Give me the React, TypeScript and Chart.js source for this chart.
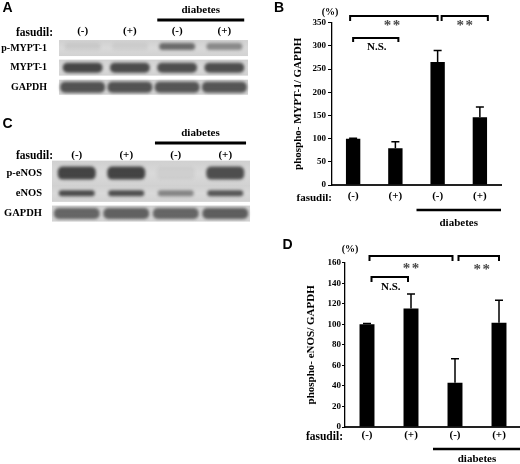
import React, { useEffect, useRef } from "react";
import { Chart, registerables } from "chart.js";

Chart.register(...registerables);

const SERIF = "'Liberation Serif', 'Times New Roman', serif";
const SANS = "'Liberation Sans', Arial, sans-serif";

// ---------------- data ----------------
const fasudilLabels = ["(-)", "(+)", "(-)", "(+)"];
const diabetesLabel = "diabetes";

const rowsA = ["p-MYPT-1", "MYPT-1", "GAPDH"];
const rowsC = ["p-eNOS", "eNOS", "GAPDH"];

// band intensities per lane (0 = none, 1 = black)
const bandPMYPT1 = [0.07, 0.06, 0.58, 0.42];
const bandMYPT1 = [0.78, 0.76, 0.74, 0.74];
const bandGAPDHA = [0.72, 0.72, 0.7, 0.7];
const bandPeNOS = [0.8, 0.8, 0.05, 0.74];
const bandENOS = [0.76, 0.74, 0.45, 0.7];
const bandGAPDHC = [0.62, 0.64, 0.62, 0.66];

const myptTitle = "phospho- MYPT-1/ GAPDH";
const myptValues = [100, 79, 265, 146];
const myptErrors = [0.8, 14, 25, 22];
const myptMax = 350;
const myptStep = 50;

const enosTitle = "phospho- eNOS/ GAPDH";
const enosValues = [100, 115.5, 43, 101.5];
const enosErrors = [0.8, 14, 23.5, 22];
const enosMax = 160;
const enosStep = 20;

// comparisons: [from bar, to bar, label]
const myptBrackets: [number, number, string][] = [
  [0, 2, "**"],
  [2, 3, "**"],
  [0, 1, "N.S."],
];
const enosBrackets: [number, number, string][] = [
  [0, 2, "**"],
  [2, 3, "**"],
  [0, 1, "N.S."],
];

// ---------------- styles ----------------
const myptBracketStyle = [
  { level: 364.5, dx: [-3, 0], leg: 5, tx: -2, ty: 7.5 },
  { level: 364.5, dx: [4, 8], leg: 5, tx: 0, ty: 7.5 },
  { level: 317, dx: [0, 3], leg: 4, tx: 1, ty: 9 },
];
const enosBracketStyle = [
  { level: 166.5, dx: [2.5, -2.5], leg: 5, tx: 0, ty: 10 },
  { level: 166.5, dx: [3.5, 0], leg: 5, tx: 3, ty: 11 },
  { level: 146, dx: [4.5, -3], leg: 5, tx: 1, ty: 10 },
];

Chart.defaults.font.family = SERIF;
Chart.defaults.font.weight = "bold" as any;
Chart.defaults.color = "#000";

function drawDiabetes(ctx: any, xs: any, factor: number, lineY: number, textY: number, lw: number) {
  const w = xs.getPixelForValue(1) - xs.getPixelForValue(0);
  const x0 = xs.getPixelForValue(2) - w * factor;
  const x1 = xs.getPixelForValue(3) + w * factor;
  ctx.save();
  ctx.strokeStyle = "#000";
  ctx.lineWidth = lw;
  ctx.beginPath();
  ctx.moveTo(x0, lineY);
  ctx.lineTo(x1, lineY);
  ctx.stroke();
  ctx.fillStyle = "#000";
  ctx.font = `bold 11px ${SERIF}`;
  ctx.textAlign = "center";
  ctx.textBaseline = "middle";
  ctx.fillText(diabetesLabel, (x0 + x1) / 2, textY);
  ctx.restore();
}

type RowStyle = { stripH: number; bandH: number; bandW: number; dy: number };

function BlotPanel(props: {
  left: number; top: number; width: number; height: number;
  rows: string[]; bands: number[][]; rowStyles: RowStyle[];
  pad: { top: number; left: number; right: number; bottom: number };
  yWidth: number; yPad: number; rowFont: number; xHeight: number; xPad: number;
  lineY: number; textY: number;
}) {
  const ref = useRef<HTMLCanvasElement>(null);
  useEffect(() => {
    const p = props;
    const blotPlugin = {
      id: "blot",
      afterDraw(chart: any) {
        const { ctx, chartArea } = chart;
        const xs = chart.scales.x;
        const ys = chart.scales.y;
        p.rows.forEach((_r, ri) => {
          const st = p.rowStyles[ri];
          const cy = ys.getPixelForValue(ri);
          ctx.save();
          const g = ctx.createLinearGradient(0, cy - st.stripH / 2, 0, cy + st.stripH / 2);
          g.addColorStop(0, "#d0d0d0");
          g.addColorStop(0.5, "#d9d9d9");
          g.addColorStop(1, "#d2d2d2");
          ctx.fillStyle = g;
          ctx.fillRect(chartArea.left, cy - st.stripH / 2, chartArea.right - chartArea.left, st.stripH);
          ctx.restore();
          p.bands[ri].forEach((a, li) => {
            const cx = xs.getPixelForValue(li);
            ctx.save();
            ctx.filter = "blur(1.4px)";
            ctx.fillStyle = `rgba(30,30,30,${a})`;
            const w = st.bandW, h = st.bandH;
            const y0 = cy + st.dy - h / 2;
            ctx.beginPath();
            (ctx as any).roundRect(cx - w / 2, y0, w, h, Math.min(h / 2, 5));
            ctx.fill();
            ctx.restore();
          });
        });
        drawDiabetes(ctx, xs, 0.42, p.lineY, p.textY, 2.8);
      },
    };
    const chart = new Chart(ref.current as HTMLCanvasElement, {
      type: "bar",
      data: { labels: fasudilLabels, datasets: [] },
      options: {
        responsive: false,
        animation: false,
        layout: { padding: p.pad },
        plugins: { legend: { display: false }, tooltip: { enabled: false } },
        scales: {
          x: {
            type: "category",
            position: "top",
            labels: fasudilLabels,
            offset: true,
            grid: { display: false, drawTicks: false },
            border: { display: false },
            ticks: { font: { size: 11, weight: "bold" }, color: "#000", padding: p.xPad },
            afterFit: (s: any) => { s.height = p.xHeight; },
          },
          y: {
            type: "category",
            position: "left",
            labels: p.rows,
            offset: true,
            grid: { display: false, drawTicks: false },
            border: { display: false },
            ticks: { font: { size: p.rowFont, weight: "bold" }, color: "#000", padding: p.yPad },
            afterFit: (s: any) => { s.width = p.yWidth; },
          },
        } as any,
      },
      plugins: [blotPlugin],
    });
    return () => chart.destroy();
  }, []);
  return (
    <canvas
      ref={ref}
      width={props.width}
      height={props.height}
      style={{ position: "absolute", left: props.left, top: props.top, width: props.width, height: props.height }}
    />
  );
}

function BarPanel(props: {
  left: number; top: number; width: number; height: number;
  values: number[]; errors: number[]; max: number; step: number; title: string;
  brackets: [number, number, string][]; bracketStyle: any[];
  pad: { top: number; left: number; right: number; bottom: number };
  yWidth: number; xHeight: number; tickLen: number; tickPad: number; xPad: number;
  lineOff: number; textOff: number;
}) {
  const ref = useRef<HTMLCanvasElement>(null);
  useEffect(() => {
    const p = props;
    const annot = {
      id: "annot",
      afterDraw(chart: any) {
        const { ctx } = chart;
        const xs = chart.scales.x;
        const ys = chart.scales.y;
        const meta = chart.getDatasetMeta(0);
        ctx.save();
        ctx.strokeStyle = "#000";
        ctx.lineWidth = 1.5;
        p.values.forEach((v, i) => {
          const cx = meta.data[i].x;
          const y0 = ys.getPixelForValue(v);
          const y1 = ys.getPixelForValue(v + p.errors[i]);
          ctx.beginPath();
          ctx.moveTo(cx, y0);
          ctx.lineTo(cx, y1);
          ctx.moveTo(cx - 4, y1);
          ctx.lineTo(cx + 4, y1);
          ctx.stroke();
        });
        ctx.lineWidth = 2;
        p.brackets.forEach(([a, b, label], k) => {
          const st = p.bracketStyle[k];
          const xa = xs.getPixelForValue(a) + st.dx[0];
          const xb = xs.getPixelForValue(b) + st.dx[1];
          const yl = ys.getPixelForValue(st.level);
          ctx.strokeStyle = "#000";
          ctx.beginPath();
          ctx.moveTo(xa, yl + st.leg);
          ctx.lineTo(xa, yl);
          ctx.lineTo(xb, yl);
          ctx.lineTo(xb, yl + st.leg);
          ctx.stroke();
          const mx = (xa + xb) / 2 + st.tx;
          const ty = yl + st.ty;
          ctx.textAlign = "center";
          ctx.textBaseline = "middle";
          if (label === "**") {
            ctx.fillStyle = "#4a4a4a";
            ctx.font = `bold 15px ${SERIF}`;
            ctx.fillText("*", mx - 4.5, ty + 3);
            ctx.fillText("*", mx + 4.5, ty + 3);
          } else {
            ctx.fillStyle = "#000";
            ctx.font = `bold 11px ${SERIF}`;
            ctx.fillText(label, mx, ty);
          }
        });
        ctx.restore();
        drawDiabetes(ctx, xs, 0.5, xs.top + p.lineOff, xs.top + p.lineOff + p.textOff, 2.5);
      },
    };
    const chart = new Chart(ref.current as HTMLCanvasElement, {
      type: "bar",
      data: {
        labels: fasudilLabels,
        datasets: [
          {
            data: p.values,
            backgroundColor: "#000",
            borderWidth: 0,
            barPercentage: 0.34,
            categoryPercentage: 1,
          },
        ],
      },
      options: {
        responsive: false,
        animation: false,
        layout: { padding: p.pad },
        plugins: { legend: { display: false }, tooltip: { enabled: false } },
        scales: {
          x: {
            grid: { display: false, drawTicks: false },
            border: { display: true, color: "#222", width: 2 },
            ticks: { font: { size: 11, weight: "bold" }, color: "#000", padding: p.xPad },
            afterFit: (s: any) => { s.height = p.xHeight; },
          },
          y: {
            min: 0,
            max: p.max,
            grid: { display: true, drawOnChartArea: false, drawTicks: true, tickLength: p.tickLen, color: "#000", lineWidth: 1 },
            border: { display: true, color: "#000", width: 1.3 },
            ticks: { stepSize: p.step, font: { size: 9, weight: "bold" }, color: "#000", padding: p.tickPad },
            title: { display: true, text: p.title, font: { size: 11, weight: "bold" }, color: "#000", padding: 0 },
            afterFit: (s: any) => { s.width = p.yWidth; },
          },
        } as any,
      },
      plugins: [annot],
    });
    return () => chart.destroy();
  }, []);
  return (
    <canvas
      ref={ref}
      width={props.width}
      height={props.height}
      style={{ position: "absolute", left: props.left, top: props.top, width: props.width, height: props.height }}
    />
  );
}

function Txt(props: { x: number; y: number; text: string; font: string; align?: "center" | "right" }) {
  const tx = props.align === "right" ? "-100%" : "-50%";
  return (
    <div
      style={{
        position: "absolute",
        left: props.x,
        top: props.y,
        transform: `translate(${tx}, -50%)`,
        whiteSpace: "nowrap",
        lineHeight: 1,
        font: props.font,
        color: "#000",
      }}
    >
      {props.text}
    </div>
  );
}

export default function App() {
  const letter = `bold 14px ${SANS}`;
  const lab = `bold 11.5px ${SERIF}`;
  return (
    <div
      style={{
        position: "absolute",
        left: 0,
        top: 0,
        width: 520,
        height: 464,
        overflow: "hidden",
        background: "#fff",
      }}
    >
      <BlotPanel
        left={0} top={0} width={258} height={115}
        rows={rowsA}
        bands={[bandPMYPT1, bandMYPT1, bandGAPDHA]}
        rowStyles={[
          { stripH: 16, bandH: 7, bandW: 36, dy: -1.5 },
          { stripH: 16, bandH: 10, bandW: 40, dy: 0 },
          { stripH: 15, bandH: 11, bandW: 45, dy: 0 },
        ]}
        pad={{ top: 20, left: 0, right: 10, bottom: 3.25 }}
        yWidth={59} yPad={12} rowFont={10} xHeight={18.25} xPad={0}
        lineY={20} textY={10}
      />
      <BlotPanel
        left={0} top={120} width={258} height={120}
        rows={rowsC}
        bands={[bandPeNOS, bandENOS, bandGAPDHC]}
        rowStyles={[
          { stripH: 25, bandH: 13, bandW: 38, dy: 0 },
          { stripH: 17, bandH: 6, bandW: 36, dy: 0 },
          { stripH: 16, bandH: 11, bandW: 46, dy: 0 },
        ]}
        pad={{ top: 23, left: 0, right: 8, bottom: 2.5 }}
        yWidth={52} yPad={10} rowFont={10.5} xHeight={20} xPad={1.4}
        lineY={23} textY={13}
      />
      <BarPanel
        left={260} top={0} width={260} height={240}
        values={myptValues} errors={myptErrors} max={myptMax} step={myptStep} title={myptTitle}
        brackets={myptBrackets} bracketStyle={myptBracketStyle}
        pad={{ top: 22.7, left: 32, right: 19, bottom: 0 }}
        yWidth={40} xHeight={55} tickLen={4} tickPad={2} xPad={5}
        lineOff={25} textOff={13}
      />
      <BarPanel
        left={260} top={240} width={264} height={224}
        values={enosValues} errors={enosErrors} max={enosMax} step={enosStep} title={enosTitle}
        brackets={enosBrackets} bracketStyle={enosBracketStyle}
        pad={{ top: 22.7, left: 45, right: 3, bottom: 0 }}
        yWidth={40} xHeight={37} tickLen={3} tickPad={1} xPad={2}
        lineOff={22} textOff={10}
      />
      <Txt x={7.5} y={7} text="A" font={letter} />
      <Txt x={7.5} y={122.5} text="C" font={letter} />
      <Txt x={279} y={7} text="B" font={letter} />
      <Txt x={287.5} y={243.5} text="D" font={letter} />
      <Txt x={330} y={11} text="(%)" font={`bold 10px ${SERIF}`} />
      <Txt x={350} y={248} text="(%)" font={`bold 10px ${SERIF}`} />
      <Txt x={53} y={32} text="fasudil:" font={lab} align="right" />
      <Txt x={53} y={155} text="fasudil:" font={lab} align="right" />
      <Txt x={332} y={197} text="fasudil:" font={`bold 11px ${SERIF}`} align="right" />
      <Txt x={343} y={436} text="fasudil:" font={lab} align="right" />
    </div>
  );
}
